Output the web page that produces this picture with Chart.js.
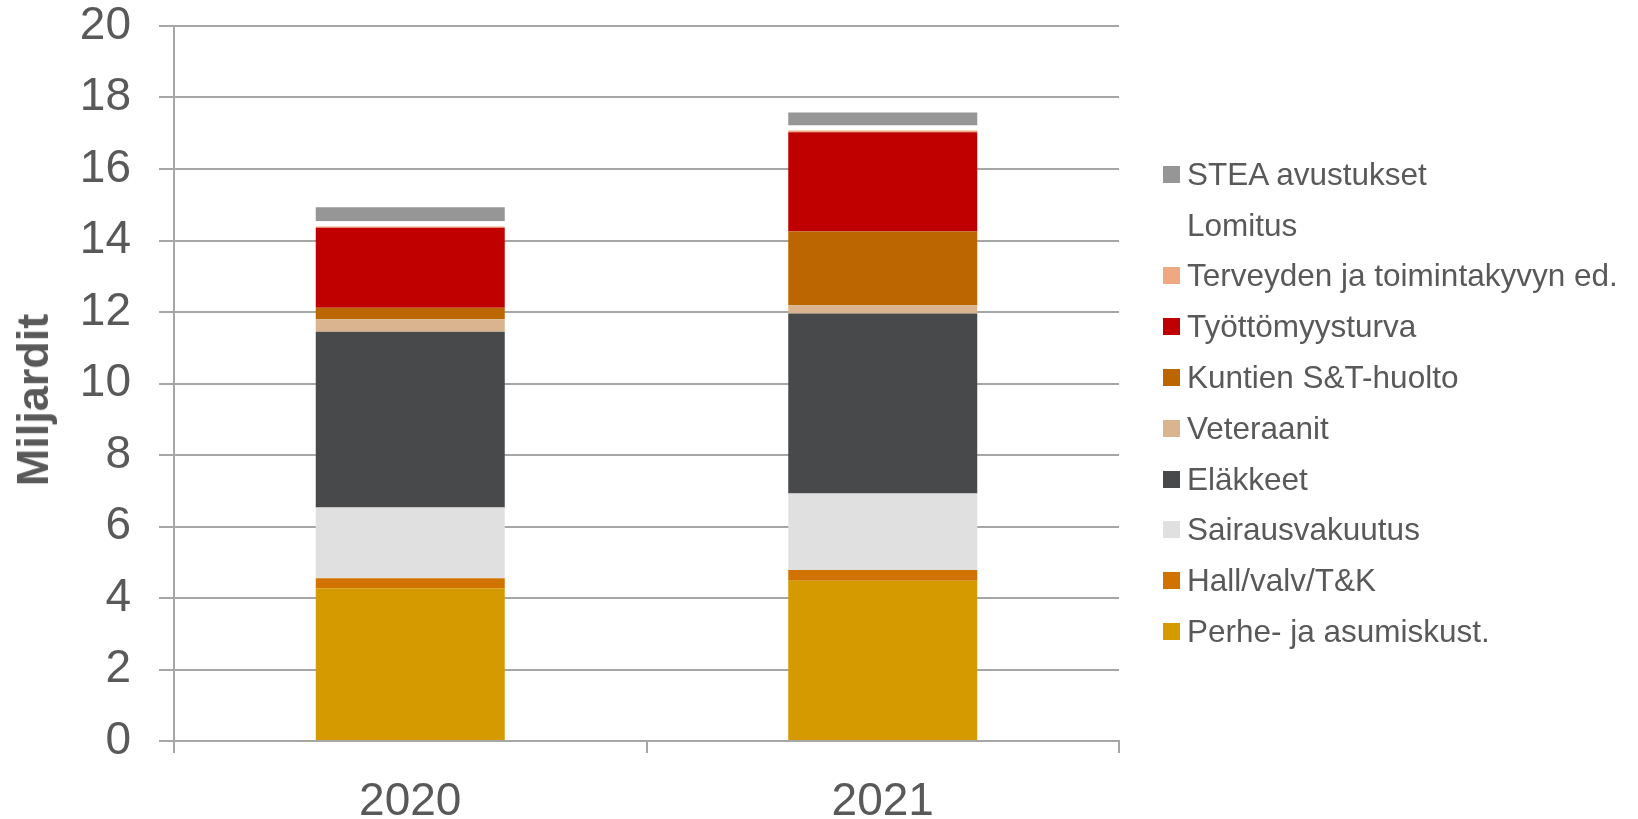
<!DOCTYPE html>
<html>
<head>
<meta charset="utf-8">
<script src="https://cdn.jsdelivr.net/npm/chart.js@4"></script>
<style>
  body { margin: 0; background: #fff; }
  #wrap { position: relative; width: 1638px; height: 819px; }
  #legend { position: absolute; left: 1163px; top: 149px; font-family: "Liberation Sans", Arial, sans-serif; font-size: 31.5px; color: #595959; }
  #legend div { height: 50.8px; white-space: nowrap; display: flex; align-items: center; }
  #legend span.box { display: inline-block; width: 17px; height: 17px; margin-right: 7px; }
  #ytitle { position: absolute; left: 33px; top: 400px; transform: translate(-50%, -50%) rotate(-90deg); font-family: "Liberation Sans", Arial, sans-serif; font-size: 45px; font-weight: bold; color: #595959; white-space: nowrap; }
</style>
</head>
<body>
<div id="wrap">
  <canvas id="chart" width="1638" height="819"></canvas>
  <div id="legend"></div>
  <div id="ytitle">Miljardit</div>
</div>
<script>
// 年度
const years = ['2020', '2021'];

// 系列（下から上へ積み上げ）
const seriesNames = [
    'Perhe- ja asumiskust.',
    'Hall/valv/T&K',
    'Sairausvakuutus',
    'Eläkkeet',
    'Veteraanit',
    'Kuntien S&T-huolto',
    'Työttömyysturva',
    'Terveyden ja toimintakyvyn ed.',
    'Lomitus',
    'STEA avustukset'
];
const seriesColors = [
    '#D49A00', '#D07300', '#E0E0E0', '#48494B', '#D9B48E',
    '#BB6600', '#C00000', '#F0A882', '#FFFFFF', '#969696'
];

// 値（ミリアルド）
const perhe      = [4.27, 4.48];
const hall       = [0.28, 0.30];
const sairaus    = [1.98, 2.14];
const elakkeet   = [4.92, 5.04];
const veteraanit = [0.35, 0.23];
const kuntien    = [0.32, 2.07];
const tyottomyys = [2.24, 2.77];
const terveyden  = [0.03, 0.05];
const lomitus    = [0.15, 0.14];
const stea       = [0.39, 0.36];
const seriesValues = [perhe, hall, sairaus, elakkeet, veteraanit, kuntien, tyottomyys, terveyden, lomitus, stea];

const yTicks = [0, 2, 4, 6, 8, 10, 12, 14, 16, 18, 20];

const fontFamily = '"Liberation Sans", Arial, sans-serif';
const textColor = '#595959';
const gridColor = '#A6A6A6';

const datasets = seriesNames.map((name, i) => ({
    label: name,
    data: seriesValues[i],
    backgroundColor: seriesColors[i],
    borderWidth: 0,
    barPercentage: 0.4,
    categoryPercentage: 1.0
}));

const ctx = document.getElementById('chart').getContext('2d');
const chart = new Chart(ctx, {
    type: 'bar',
    data: { labels: years, datasets: datasets },
    options: {
        responsive: false,
        animation: false,
        layout: { padding: { top: 26, right: 519, bottom: 0, left: 0 } },
        plugins: {
            legend: { display: false },
            tooltip: { enabled: false }
        },
        scales: {
            x: {
                stacked: true,
                grid: {
                    display: true,
                    drawOnChartArea: false,
                    drawTicks: true,
                    tickLength: 12,
                    color: gridColor,
                    lineWidth: 2
                },
                border: { color: gridColor, width: 2 },
                ticks: {
                    color: textColor,
                    padding: 26,
                    font: { family: fontFamily, size: 46, lineHeight: 1 }
                },
                afterFit: scale => { scale.height = 78; }
            },
            y: {
                stacked: true,
                min: 0,
                max: 20,
                afterBuildTicks: scale => { scale.ticks = yTicks.map(v => ({ value: v })); },
                grid: {
                    color: gridColor,
                    lineWidth: 2,
                    tickLength: 15
                },
                border: { color: gridColor, width: 2 },
                ticks: {
                    color: textColor,
                    padding: 28,
                    font: { family: fontFamily, size: 46, lineHeight: 1 }
                },
                afterFit: scale => {
                    scale.width = 174;
                    scale.paddingTop = 0;
                    scale.paddingBottom = 0;
                }
            }
        }
    }
});

// 凡例（上から逆順）
const legendEl = document.getElementById('legend');
chart.data.datasets.slice().reverse().forEach(ds => {
    const item = document.createElement('div');
    const box = document.createElement('span');
    box.className = 'box';
    box.style.background = ds.backgroundColor;
    item.appendChild(box);
    item.appendChild(document.createTextNode(ds.label));
    legendEl.appendChild(item);
});
</script>
</body>
</html>
